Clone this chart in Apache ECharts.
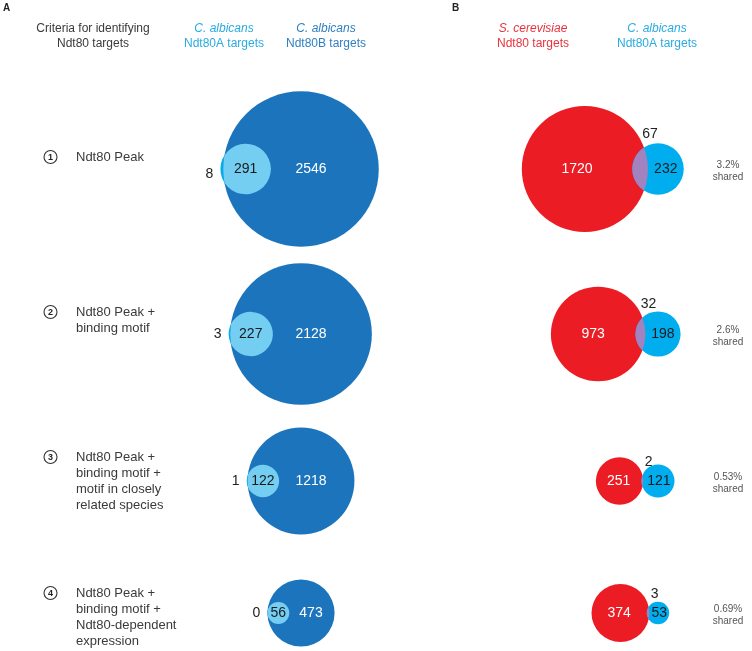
<!DOCTYPE html>
<html><head><meta charset="utf-8">
<script src="https://cdn.jsdelivr.net/npm/echarts@6/dist/echarts.min.js"></script>
<style>html,body{margin:0;padding:0;background:#fff}#c{width:752px;height:651px}</style>
</head><body><div id="c"></div>
<script>
// ---------------- data ----------------
const criteria = [
  'Ndt80 Peak',
  'Ndt80 Peak +\nbinding motif',
  'Ndt80 Peak +\nbinding motif +\nmotif in closely\nrelated species',
  'Ndt80 Peak +\nbinding motif +\nNdt80-dependent\nexpression'
];
const stepNumbers = ['1', '2', '3', '4'];
// Panel A: C. albicans Ndt80A vs Ndt80B
const albAOnly = [8, 3, 1, 0];
const albABShared = [291, 227, 122, 56];
const albBOnly = [2546, 2128, 1218, 473];
// Panel B: S. cerevisiae Ndt80 vs C. albicans Ndt80A
const scerOnly = [1720, 973, 251, 374];
const scerAlbShared = [67, 32, 2, 3];
const albAOnlyB = [232, 198, 121, 53];
const sharedPct = ['3.2%', '2.6%', '0.53%', '0.69%'];

// ---------------- layout / style ----------------
const rowY = [169, 334, 481, 613];
const labelLineY = [157, 312, 457, 593];
const KA = 1.46;          // radius per sqrt(gene count), panel A
const KB = 1.49;          // radius per sqrt(gene count), panel B
const anchorA = 301;      // centre of Ndt80B circles
const anchorB = 658;      // centre of C. albicans Ndt80A circles (panel B)
const FONT = '"Liberation Sans", Arial, Helvetica, sans-serif';
const C_DARK = '#1c75bc', C_LIGHT = '#74cef1', C_CYAN = '#00aeef', C_RED = '#ec1c24', C_PURPLE = '#a383bf';

function lensArea(r1, r2, d) {
  if (d >= r1 + r2) return 0;
  if (d <= Math.abs(r1 - r2)) return Math.PI * Math.min(r1, r2) ** 2;
  const a1 = Math.acos((d * d + r1 * r1 - r2 * r2) / (2 * d * r1));
  const a2 = Math.acos((d * d + r2 * r2 - r1 * r1) / (2 * d * r2));
  return r1 * r1 * (a1 - Math.sin(2 * a1) / 2) + r2 * r2 * (a2 - Math.sin(2 * a2) / 2);
}
function solveDistance(r1, r2, area) {
  let lo = Math.abs(r1 - r2), hi = r1 + r2;
  if (area >= Math.PI * Math.min(r1, r2) ** 2 - 1e-9) return lo;
  if (area <= 0) return hi;
  for (let k = 0; k < 60; k++) {
    const mid = (lo + hi) / 2;
    if (lensArea(r1, r2, mid) > area) lo = mid; else hi = mid;
  }
  return (lo + hi) / 2;
}
function lensPath(x1, y, r1, x2, r2) {
  const d = x2 - x1;
  const a = (d * d + r1 * r1 - r2 * r2) / (2 * d);
  const h = Math.sqrt(Math.max(r1 * r1 - a * a, 0));
  const px = x1 + a;
  const la1 = a < 0 ? 1 : 0, la2 = (d - a) < 0 ? 1 : 0;
  return `M${px},${y - h}A${r1},${r1} 0 ${la1} 1 ${px},${y + h}A${r2},${r2} 0 ${la2} 1 ${px},${y - h}Z`;
}
function txt(x, y, text, o) {
  o = o || {};
  return {
    type: 'text', x: x, y: y, silent: true,
    style: {
      text: text, fill: o.fill || '#222', fontSize: o.size || 14, fontFamily: FONT,
      fontStyle: o.italic ? 'italic' : 'normal', fontWeight: o.bold ? 'bold' : 'normal',
      align: o.align || 'center', verticalAlign: o.va || 'middle',
      textAlign: o.align || 'center', textVerticalAlign: o.va || 'middle',
      lineHeight: o.lh || undefined
    }
  };
}

function renderA(params, api) {
  const i = api.value(0), bOnly = api.value(1), shared = api.value(2), aOnly = api.value(3);
  const unit = api.size([1, 0])[0];
  const R = KA * Math.sqrt(bOnly + shared) * unit;
  const r = KA * Math.sqrt(aOnly + shared) * unit;
  const target = Math.PI * r * r * shared / (aOnly + shared);
  const d = solveDistance(r, R, target);
  const c = api.coord([anchorA, rowY[i]]);
  const sx = c[0] - d;
  const kids = [
    { type: 'circle', shape: { cx: sx, cy: c[1], r: r }, style: { fill: C_CYAN } },
    { type: 'circle', shape: { cx: c[0], cy: c[1], r: R }, style: { fill: C_DARK } }
  ];
  if (d <= R - r + 1e-6) kids.push({ type: 'circle', shape: { cx: sx, cy: c[1], r: r }, style: { fill: C_LIGHT } });
  else kids.push({ type: 'path', shape: { pathData: lensPath(sx, c[1], r, c[0], R) }, style: { fill: C_LIGHT } });
  kids.push(txt(sx, c[1], String(shared), { fill: '#1a1a1a' }));
  kids.push(txt(c[0] + 10 * unit, c[1], String(bOnly), { fill: '#fff' }));
  kids.push(txt(sx - r - 11 * unit, c[1] + (i === 0 ? 5 : 0), String(aOnly), { fill: '#222' }));
  // criteria column
  const ly = api.coord([0, labelLineY[i]])[1];
  const nx = api.coord([50.5, 0])[0];
  kids.push({ type: 'circle', shape: { cx: nx, cy: ly, r: 6.5 }, style: { fill: '#fff', stroke: '#333', lineWidth: 1.1 } });
  kids.push(txt(nx, ly + 0.5, stepNumbers[i], { size: 9, bold: true, fill: '#222' }));
  kids.push(txt(api.coord([76, 0])[0], ly - 8, criteria[i], { size: 13, align: 'left', va: 'top', lh: 16, fill: '#3a3a3a' }));
  return { type: 'group', children: kids };
}

function renderB(params, api) {
  const i = api.value(0), sOnly = api.value(1), shared = api.value(2), cOnly = api.value(3);
  const unit = api.size([1, 0])[0];
  const r1 = KB * Math.sqrt(sOnly + shared) * unit;
  const r2 = KB * Math.sqrt(cOnly + shared) * unit;
  const d = solveDistance(r1, r2, Math.PI * KB * KB * unit * unit * shared);
  const c2 = api.coord([anchorB, rowY[i]]);
  const x1 = c2[0] - d, y = c2[1];
  const a = (d * d + r1 * r1 - r2 * r2) / (2 * d);
  const h = Math.sqrt(Math.max(r1 * r1 - a * a, 0));
  const kids = [
    { type: 'circle', shape: { cx: x1, cy: y, r: r1 }, style: { fill: C_RED } },
    { type: 'circle', shape: { cx: c2[0], cy: y, r: r2 }, style: { fill: C_CYAN } },
    { type: 'path', shape: { pathData: lensPath(x1, y, r1, c2[0], r2) }, style: { fill: C_PURPLE } },
    txt(((x1 - r1) + (c2[0] - r2)) / 2, y, String(sOnly), { fill: '#fff' }),
    txt(((x1 + r1) + (c2[0] + r2)) / 2, y, String(cOnly), { fill: '#1a1a1a' }),
    txt(x1 + a + 6 * unit, y - h - 13 * unit, String(shared), { fill: '#222' }),
    txt(api.coord([728, 0])[0], y + 2 * unit, sharedPct[i] + '\nshared', { size: 10, fill: '#555', lh: 12 })
  ];
  return { type: 'group', children: kids };
}

const rows = criteria.map((_, i) => i);
const chart = echarts.init(document.getElementById('c'));
chart.setOption({
  animation: false,
  backgroundColor: '#fff',
  grid: { left: 0, right: 0, top: 0, bottom: 0 },
  xAxis: { type: 'value', min: 0, max: 752, show: false },
  yAxis: { type: 'value', min: 0, max: 651, inverse: true, show: false },
  graphic: [
    { type: 'text', left: 3, top: 3, style: { text: 'A', fontSize: 10, fontWeight: 'bold', fill: '#222', fontFamily: FONT } },
    { type: 'text', left: 452, top: 3, style: { text: 'B', fontSize: 10, fontWeight: 'bold', fill: '#222', fontFamily: FONT } },
    { type: 'text', x: 93, y: 29, style: { text: 'Criteria for identifying', fontSize: 12, fill: '#3a3a3a', fontFamily: FONT, align: 'center', verticalAlign: 'middle' } },
    { type: 'text', x: 93, y: 44, style: { text: 'Ndt80 targets', fontSize: 12, fill: '#3a3a3a', fontFamily: FONT, align: 'center', verticalAlign: 'middle' } },
    { type: 'text', x: 224, y: 29, style: { text: 'C. albicans', fontSize: 12, fontStyle: 'italic', fill: '#29abe2', fontFamily: FONT, align: 'center', verticalAlign: 'middle' } },
    { type: 'text', x: 224, y: 44, style: { text: 'Ndt80A targets', fontSize: 12, fill: '#29abe2', fontFamily: FONT, align: 'center', verticalAlign: 'middle' } },
    { type: 'text', x: 326, y: 29, style: { text: 'C. albicans', fontSize: 12, fontStyle: 'italic', fill: '#2f7fc1', fontFamily: FONT, align: 'center', verticalAlign: 'middle' } },
    { type: 'text', x: 326, y: 44, style: { text: 'Ndt80B targets', fontSize: 12, fill: '#2f7fc1', fontFamily: FONT, align: 'center', verticalAlign: 'middle' } },
    { type: 'text', x: 533, y: 29, style: { text: 'S. cerevisiae', fontSize: 12, fontStyle: 'italic', fill: '#e8333c', fontFamily: FONT, align: 'center', verticalAlign: 'middle' } },
    { type: 'text', x: 533, y: 44, style: { text: 'Ndt80 targets', fontSize: 12, fill: '#e8333c', fontFamily: FONT, align: 'center', verticalAlign: 'middle' } },
    { type: 'text', x: 657, y: 29, style: { text: 'C. albicans', fontSize: 12, fontStyle: 'italic', fill: '#29abe2', fontFamily: FONT, align: 'center', verticalAlign: 'middle' } },
    { type: 'text', x: 657, y: 44, style: { text: 'Ndt80A targets', fontSize: 12, fill: '#29abe2', fontFamily: FONT, align: 'center', verticalAlign: 'middle' } }
  ],
  series: [
    { type: 'custom', name: 'panelA', renderItem: renderA, clip: false,
      data: rows.map(i => [i, albBOnly[i], albABShared[i], albAOnly[i]]) },
    { type: 'custom', name: 'panelB', renderItem: renderB, clip: false,
      data: rows.map(i => [i, scerOnly[i], scerAlbShared[i], albAOnlyB[i]]) }
  ]
});
</script>
</body></html>
